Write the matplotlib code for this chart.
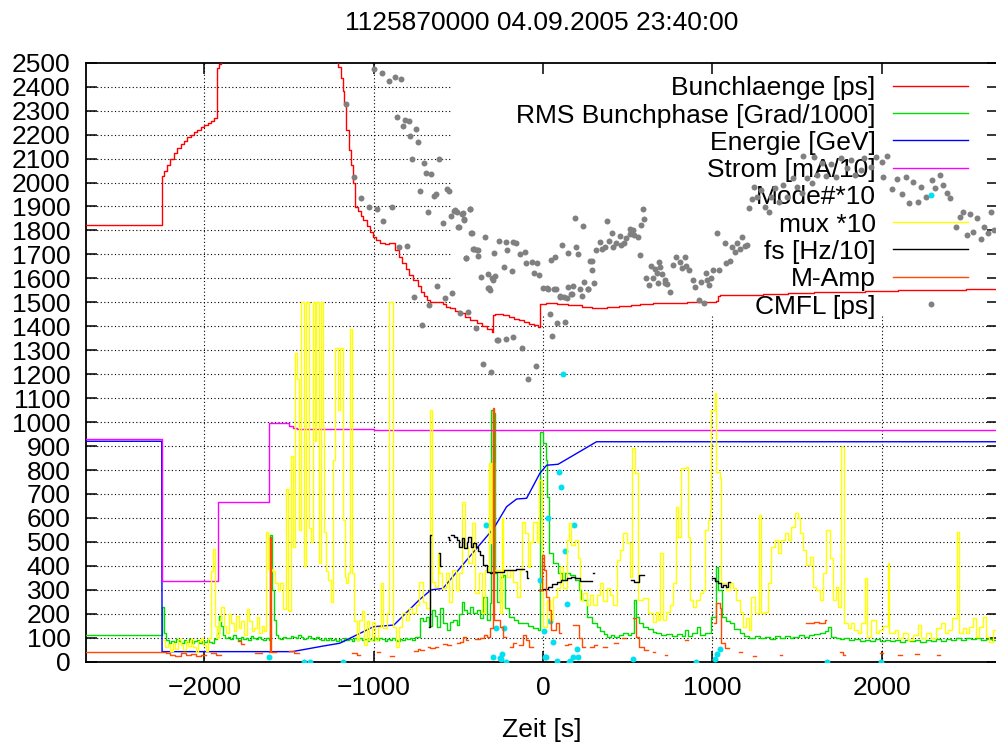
import numpy as np
import matplotlib
matplotlib.use("Agg")
import matplotlib.pyplot as plt

plt.rcParams["font.family"] = ["Liberation Sans", "DejaVu Sans"]

# ---- data: (zeit [s], wert) ----
bunchlaenge = [(-2700, 1822), (-2250, 2027), (-2240, 2050), (-2220, 2075), (-2200, 2100), (-2180, 2125),
               (-2160, 2145), (-2140, 2160), (-2120, 2175), (-2100, 2190), (-2080, 2200), (-2060, 2210),
               (-2040, 2220), (-2020, 2230), (-2000, 2240), (-1980, 2250), (-1960, 2258), (-1940, 2268),
               (-1923, 2479), (-1912, 2494), (-1900, 2600), (-1222, 2600), (-1210, 2480), (-1191, 2435),
               (-1180, 2380), (-1172, 2330), (-1162, 2219), (-1146, 2136), (-1132, 2073), (-1122, 1997),
               (-1107, 1899), (-1090, 1880), (-1075, 1860), (-1063, 1844), (-1040, 1820), (-1020, 1795),
               (-1004, 1774), (-985, 1760), (-964, 1746), (-930, 1744), (-910, 1748), (-895, 1746),
               (-876, 1718), (-850, 1690), (-830, 1665), (-810, 1640), (-790, 1615), (-767, 1593),
               (-740, 1570), (-720, 1545), (-700, 1525), (-685, 1510), (-669, 1502), (-640, 1503),
               (-609, 1502), (-590, 1492), (-570, 1482), (-549, 1475), (-520, 1465), (-490, 1454),
               (-460, 1440), (-430, 1425), (-391, 1412), (-360, 1400), (-330, 1390), (-303, 1377),
               (-297, 1447), (-280, 1452), (-254, 1452), (-234, 1447), (-200, 1440), (-170, 1432),
               (-140, 1425), (-110, 1418), (-80, 1410), (-50, 1404), (-28, 1398), (-18, 1493), (20, 1495),
               (81, 1493), (150, 1488), (230, 1482), (290, 1478), (336, 1475), (380, 1480), (450, 1485),
               (520, 1490), (572, 1493), (650, 1495), (749, 1496), (850, 1500), (950, 1503), (1025, 1505),
               (1032, 1525), (1044, 1530), (1150, 1532), (1300, 1535), (1450, 1538), (1600, 1541),
               (1752, 1544), (1900, 1548), (2100, 1551), (2300, 1553), (2500, 1555), (2685, 1558)]

rms_phase = [(-2700, 113), (-2250, 230), (-2238, 118), (-2225, 92), (-2210, 80), (-2195, 88), (-2180, 82),
             (-2165, 95), (-2150, 85), (-2135, 78), (-2120, 90), (-2105, 84), (-2090, 96), (-2075, 80),
             (-2060, 88), (-2045, 92), (-2030, 78), (-2015, 86), (-2000, 82), (-1985, 90), (-1970, 84),
             (-1955, 78), (-1940, 95), (-1925, 120), (-1915, 190), (-1900, 150), (-1890, 110), (-1875, 98),
             (-1860, 105), (-1845, 95), (-1830, 110), (-1815, 100), (-1800, 92), (-1785, 104), (-1770, 96),
             (-1755, 100), (-1740, 92), (-1725, 106), (-1710, 98), (-1695, 94), (-1680, 102), (-1665, 96),
             (-1650, 90), (-1635, 100), (-1620, 92), (-1612, 530), (-1598, 300), (-1588, 175), (-1578, 110),
             (-1565, 100), (-1550, 96), (-1535, 104), (-1520, 98), (-1505, 100), (-1490, 108), (-1475, 102),
             (-1460, 98), (-1445, 110), (-1430, 104), (-1415, 96), (-1400, 100), (-1385, 106), (-1370, 98),
             (-1355, 94), (-1340, 102), (-1325, 96), (-1310, 90), (-1295, 98), (-1280, 92), (-1265, 100),
             (-1250, 90), (-1235, 96), (-1220, 88), (-1205, 94), (-1190, 86), (-1175, 98), (-1160, 90),
             (-1145, 96), (-1130, 88), (-1115, 100), (-1100, 92), (-1085, 98), (-1070, 90), (-1055, 96),
             (-1040, 88), (-1025, 94), (-1010, 90), (-995, 98), (-980, 92), (-965, 100), (-950, 94),
             (-935, 88), (-920, 96), (-905, 90), (-890, 98), (-875, 92), (-860, 86), (-845, 96), (-830, 92),
             (-815, 100), (-800, 94), (-785, 98), (-770, 90), (-755, 104), (-728, 181), (-710, 170),
             (-690, 185), (-670, 150), (-657, 216), (-640, 190), (-627, 146), (-608, 223), (-590, 160),
             (-568, 132), (-550, 165), (-529, 174), (-509, 153), (-495, 200), (-480, 250), (-465, 215),
             (-450, 202), (-430, 230), (-411, 202), (-390, 215), (-372, 181), (-352, 271), (-332, 174),
             (-313, 244), (-305, 1050), (-297, 400), (-291, 1037), (-283, 369), (-273, 250), (-254, 355),
             (-234, 362), (-224, 223), (-200, 188), (-170, 175), (-145, 160), (-116, 160), (-90, 150),
             (-57, 139), (-28, 132), (-18, 960), (0, 911), (16, 842), (24, 689), (38, 452), (60, 411),
             (90, 369), (112, 341), (130, 369), (160, 362), (190, 341), (215, 300), (228, 258), (258, 188),
             (290, 160), (317, 146), (340, 130), (360, 115), (376, 104), (400, 110), (420, 104), (450, 112),
             (474, 118), (500, 110), (520, 118), (537, 258), (548, 188), (570, 160), (592, 146), (620, 135),
             (650, 125), (671, 118), (700, 110), (730, 115), (760, 106), (790, 115), (820, 108), (838, 132),
             (855, 108), (880, 118), (910, 146), (930, 110), (960, 118), (995, 188), (1020, 394),
             (1035, 299), (1055, 188), (1080, 170), (1103, 160), (1130, 135), (1162, 118), (1190, 108),
             (1220, 100), (1250, 108), (1280, 98), (1310, 104), (1340, 96), (1370, 106), (1400, 100),
             (1430, 108), (1460, 100), (1477, 104), (1510, 110), (1540, 104), (1570, 112), (1600, 115),
             (1634, 118), (1664, 130), (1683, 146), (1703, 104), (1730, 98), (1752, 94), (1780, 98),
             (1810, 90), (1840, 96), (1870, 88), (1900, 92), (1930, 86), (1960, 94), (1990, 88), (2020, 92),
             (2050, 86), (2080, 90), (2110, 84), (2140, 92), (2170, 86), (2200, 90), (2230, 84), (2260, 92),
             (2290, 88), (2320, 94), (2350, 88), (2380, 96), (2410, 90), (2440, 98), (2470, 92), (2500, 100),
             (2530, 94), (2560, 98), (2590, 92), (2620, 96), (2650, 90), (2685, 90)]

energie = [(-2700, 920), (-2251, 920), (-2249, 42), (-1480, 42), (-1300, 65), (-1200, 77), (-1000, 146),
           (-880, 153), (-730, 258), (-660, 300), (-590, 306), (-450, 424), (-290, 557), (-214, 647),
           (-155, 679), (-96, 682), (-18, 786), (22, 820), (90, 824), (317, 918), (2685, 918)]

strom = [(-2700, 928), (-2250, 338), (-1916, 665), (-1615, 997), (-1540, 995), (-1500, 985), (-1475, 975),
         (-1450, 970), (-1000, 968), (2685, 967)]

mode = [(-1615, 21), (-1410, 0), (-1375, 0), (-1180, 0), (-333, 571), (-293, 21), (-277, 139), (-254, 14),
        (-250, 10), (-244, 31), (-230, 140), (-218, 0), (-19, 341), (6, 130), (12, 21), (18, 21), (28, 601),
        (41, 171), (61, 81), (81, 3), (96, 790), (108, 730), (120, 1201), (133, 462), (141, 241), (156, 0),
        (159, 3), (175, 21), (185, 571), (199, 52), (208, 21), (535, 11), (907, 0), (1017, 13), (1031, 32),
        (1044, 52), (1680, 0), (1996, 0)]

mux = [(-2245, 90), (-2230, 60), (-2215, 75), (-2200, 45), (-2185, 80), (-2170, 55), (-2155, 95), (-2140, 70),
       (-2125, 50), (-2110, 85), (-2095, 65), (-2080, 95), (-2065, 60), (-2050, 40), (-2035, 85), (-2020, 100),
       (-2005, 70), (-1990, 45), (-1975, 100), (-1960, 380), (-1948, 470), (-1935, 150), (-1925, 100),
       (-1915, 170), (-1900, 230), (-1885, 150), (-1870, 120), (-1855, 200), (-1840, 160), (-1825, 130),
       (-1810, 190), (-1795, 140), (-1780, 170), (-1765, 110), (-1750, 220), (-1735, 170), (-1720, 130),
       (-1705, 140), (-1690, 185), (-1675, 120), (-1660, 150), (-1645, 130), (-1636, 540), (-1622, 385),
       (-1600, 380), (-1580, 330), (-1565, 300), (-1550, 330), (-1535, 220), (-1520, 720), (-1505, 210),
       (-1490, 860), (-1475, 480), (-1462, 1290), (-1450, 1180), (-1440, 550), (-1428, 1500), (-1408, 400),
       (-1398, 1500), (-1383, 560), (-1372, 500), (-1360, 1500), (-1347, 920), (-1337, 1500), (-1322, 410),
       (-1312, 1500), (-1300, 980), (-1290, 540), (-1280, 380), (-1267, 340), (-1250, 250), (-1240, 840),
       (-1226, 1310), (-1212, 1050), (-1196, 1310), (-1180, 590), (-1170, 355), (-1160, 330), (-1150, 370),
       (-1140, 1390), (-1126, 370), (-1115, 170), (-1100, 90), (-1085, 175), (-1070, 210), (-1055, 70),
       (-1040, 170), (-1025, 90), (-1010, 167), (-991, 90), (-971, 146), (-958, 327), (-942, 139),
       (-922, 202), (-907, 1500), (-883, 146), (-868, 63), (-850, 146), (-830, 202), (-810, 174),
       (-790, 223), (-770, 202), (-750, 237), (-730, 334), (-710, 250), (-690, 223), (-665, 1050),
       (-652, 334), (-636, 313), (-622, 452), (-612, 369), (-595, 306), (-575, 369), (-555, 250),
       (-535, 383), (-515, 299), (-495, 369), (-475, 668), (-458, 480), (-440, 411), (-420, 578),
       (-400, 285), (-380, 369), (-360, 202), (-340, 383), (-320, 828), (-308, 494), (-301, 828),
       (-288, 383), (-254, 202), (-244, 599), (-234, 383), (-214, 355), (-195, 383), (-175, 334),
       (-155, 271), (-136, 383), (-122, 585), (-106, 536), (-87, 397), (-77, 501), (-57, 585), (-37, 501),
       (-22, 758), (-8, 341), (2, 146), (22, 257), (41, 174), (61, 271), (81, 306), (100, 397), (120, 306),
       (140, 508), (155, 578), (169, 487), (188, 508), (208, 432), (218, 257), (238, 285), (258, 237),
       (277, 278), (297, 237), (317, 278), (336, 327), (356, 253), (376, 306), (395, 278), (415, 237),
       (435, 425), (454, 466), (474, 536), (494, 494), (513, 355), (529, 891), (543, 786), (563, 257),
       (592, 264), (621, 202), (651, 167), (671, 209), (680, 174), (694, 452), (710, 174), (730, 209),
       (749, 237), (769, 327), (785, 647), (799, 522), (818, 807), (843, 814), (857, 522), (867, 257),
       (887, 229), (907, 257), (926, 285), (946, 299), (956, 550), (975, 591), (985, 633), (995, 1050),
       (1015, 1120), (1025, 793), (1044, 765), (1054, 327), (1084, 299), (1103, 327), (1123, 306),
       (1143, 257), (1162, 209), (1182, 146), (1201, 181), (1217, 132), (1231, 271), (1251, 202),
       (1276, 612), (1290, 202), (1310, 209), (1330, 327), (1349, 480), (1369, 508), (1389, 452),
       (1408, 508), (1428, 536), (1448, 508), (1467, 564), (1487, 619), (1507, 599), (1516, 536),
       (1536, 466), (1556, 404), (1575, 438), (1595, 313), (1615, 299), (1634, 257), (1654, 369),
       (1674, 550), (1693, 432), (1713, 257), (1733, 313), (1743, 229), (1762, 897), (1776, 160),
       (1801, 139), (1821, 160), (1840, 132), (1860, 118), (1880, 160), (1900, 348), (1913, 104),
       (1939, 174), (1969, 118), (1988, 132), (2008, 150), (2038, 411), (2047, 118), (2077, 132),
       (2096, 98), (2126, 118), (2156, 90), (2185, 111), (2214, 153), (2234, 98), (2264, 118), (2293, 98),
       (2323, 139), (2352, 160), (2372, 118), (2391, 132), (2417, 181), (2446, 543), (2460, 118),
       (2480, 139), (2500, 118), (2519, 146), (2539, 181), (2559, 104), (2578, 146), (2598, 188),
       (2618, 104), (2637, 84), (2657, 132), (2685, 132)]

nan = float("nan")
fs = [(-672, 146), (-667, 529), (-662, nan), (-613, 452), (-605, 400), (-600, nan), (-562, 520), (-555, 510),
      (-550, nan), (-545, 529), (-525, 520), (-509, 508), (-495, 480), (-480, 515), (-465, 473), (-450, 500),
      (-440, 522), (-425, 480), (-411, 494), (-395, 480), (-385, 463), (-372, 445), (-352, 404), (-332, 376),
      (-313, 369), (-300, 376), (-283, 376), (-254, 376), (-230, 383), (-195, 383), (-160, 386), (-126, 386),
      (-110, nan), (-100, 380), (-92, 350), (-85, nan), (-20, 299), (0, 305), (31, 313), (55, 325), (81, 334),
      (110, 340), (140, 348), (165, 355), (190, 350), (218, 337), (245, 338), (267, 338), (290, nan),
      (297, 369), (303, nan), (523, 341), (540, 334), (553, 334), (565, 362), (592, 362), (598, nan),
      (1001, 348), (1018, 335), (1034, 327), (1050, 313), (1064, 320), (1080, 313), (1095, 334), (1103, nan)]

m_amp = [(-2700, 42), (-2240, 42), (-2225, 38), (-2200, 30), (-2170, 25), (-2140, 35), (-2110, 28), (-2080, 33),
         (-2050, 25), (-2020, 30), (-1990, nan), (-1960, 38), (-1930, 30), (-1900, nan), (-1800, 85),
         (-1780, 75), (-1765, nan), (-1700, 35), (-1660, nan), (-1620, 40), (-1613, 520), (-1606, 40),
         (-1590, 40), (-1575, nan), (-1500, 45), (-1470, 38), (-1440, nan), (-1130, 35), (-1100, 28),
         (-1080, nan), (-980, 40), (-960, nan), (-900, 25), (-880, nan), (-760, 45), (-740, 55), (-726, 49),
         (-700, nan), (-680, 60), (-667, 56), (-640, 63), (-620, nan), (-590, 75), (-568, 70), (-540, nan),
         (-510, 80), (-490, 83), (-470, 104), (-455, 90), (-440, nan), (-400, 95), (-372, 98), (-350, 110),
         (-332, 104), (-310, 140), (-297, 1058), (-289, 174), (-273, 174), (-254, 146), (-234, 104),
         (-215, nan), (-195, 63), (-175, 80), (-160, nan), (-140, 70), (-120, 110), (-100, 90), (-80, 60),
         (-60, nan), (-20, 300), (-4, 445), (6, 383), (20, 271), (35, 216), (50, 132), (75, 160), (95, 118),
         (110, nan), (130, 70), (150, 75), (165, nan), (178, 153), (200, 153), (215, 98), (230, 63),
         (250, nan), (277, 63), (300, 70), (320, nan), (356, 63), (380, nan), (420, 80), (445, nan),
         (470, 100), (490, nan), (533, 181), (548, 104), (565, 63), (600, 49), (620, nan), (650, 40),
         (665, nan), (720, 30), (735, nan), (840, 90), (855, nan), (1010, 160), (1025, 244), (1044, 223),
         (1054, 77), (1075, 56), (1100, nan), (1160, 40), (1175, nan), (1240, 25), (1260, nan), (1400, 30),
         (1415, nan), (1556, 160), (1600, 165), (1630, 160), (1664, 175), (1672, nan), (1752, 42),
         (1770, 30), (1785, nan), (1990, 35), (2010, nan), (2100, 30), (2120, nan), (2200, 32), (2220, nan),
         (2330, 30), (2345, nan)]

cmfl = [(-997, 2472), (-950, 2459), (-907, 2424), (-871, 2442), (-838, 2433), (-1164, 2328), (-860, 2272),
        (-812, 2261), (-793, 2258), (-829, 2237), (-750, 2222), (-782, 2194), (-737, 2168), (-770, 2098),
        (-614, 2099), (-702, 2080), (-692, 2038), (-659, 2034), (-1118, 2022), (-726, 1964), (-643, 1945),
        (-633, 1952), (-568, 1972), (-556, 1966), (-1074, 1937), (-1028, 1898), (-981, 1891), (-893, 1897),
        (-679, 1878), (-543, 1860), (-525, 1881), (-509, 1877), (-478, 1867), (-431, 1891), (-942, 1841),
        (-592, 1832), (-466, 1846), (-502, 1814), (-425, 1788), (-454, 1684), (-411, 1722), (-391, 1718),
        (-381, 1693), (-848, 1729), (-802, 1735), (-624, 1568), (-762, 1523), (-580, 1517), (-535, 1538),
        (-671, 1487), (-490, 1454), (-444, 1461), (-714, 1405), (-397, 1391), (-352, 1242), (-309, 1210),
        (-263, 1343), (-324, 1558), (-297, 1593), (-313, 1551), (-273, 1343), (-218, 1346), (-175, 1354),
        (-126, 1308), (-41, 1234), (-85, 1178), (2, 1558), (31, 1554), (75, 1554), (41, 1450), (86, 1412),
        (131, 1419), (51, 1359), (100, 1521), (143, 1519), (169, 1535), (178, 1568), (234, 1526),
        (222, 1554), (267, 1554), (301, 1582), (624, 1572), (680, 1579), (720, 1582), (749, 1544),
        (-518, 1885), (-471, 1871), (-467, 1844), (-432, 1888), (-497, 1815), (-421, 1788), (-409, 1722),
        (-384, 1718), (-456, 1684), (-343, 1774), (-364, 1607), (-327, 1618), (-302, 1600), (-281, 1610),
        (-319, 1558), (-286, 1707), (-257, 1756), (-230, 1646), (-220, 1753), (-210, 1718), (-179, 1753),
        (-183, 1632), (-158, 1749), (-138, 1702), (-107, 1711), (-97, 1663), (-66, 1667), (-55, 1624),
        (-21, 1614), (-35, 1663), (22, 1558), (68, 1554), (47, 1676), (104, 1526), (125, 1521), (150, 1563),
        (171, 1535), (72, 1690), (113, 1739), (150, 1704), (187, 1851), (195, 1732), (207, 1702),
        (236, 1818), (242, 1586), (269, 1554), (277, 1674), (289, 1674), (289, 1635), (314, 1718),
        (335, 1753), (351, 1721), (366, 1732), (376, 1841), (393, 1757), (407, 1788), (417, 1732),
        (433, 1746), (458, 1777), (462, 1739), (479, 1746), (489, 1767), (516, 1805), (516, 1785),
        (530, 1802), (540, 1781), (561, 1774), (577, 1823), (592, 1888), (598, 1846), (571, 1697),
        (612, 1600), (639, 1652), (649, 1600), (663, 1638), (673, 1624), (684, 1669), (694, 1649),
        (704, 1618), (721, 1593), (735, 1576), (766, 1656), (787, 1688), (811, 1669), (824, 1642),
        (838, 1690), (848, 1652), (865, 1635), (885, 1593), (900, 1565), (920, 1510), (931, 1586),
        (961, 1621), (972, 1593), (992, 1600), (1002, 1635), (951, 1496), (982, 1572), (1029, 1791),
        (1043, 1635), (1074, 1746), (1084, 1663), (1105, 1674), (1119, 1732), (1136, 1711), (1146, 1746),
        (1166, 1721), (1176, 1774), (1194, 1735), (1208, 1739), (1218, 1892), (1234, 1930), (1249, 1980),
        (1263, 1941), (1290, 1969), (1310, 1899), (1337, 1878), (1345, 1941), (1372, 1976), (1392, 1920),
        (1419, 1990), (1444, 1941), (1475, 2017), (1502, 1980), (1531, 1955), (1537, 2111), (1557, 2017),
        (1588, 1997), (1604, 2108), (1619, 2031), (1650, 2080), (1670, 2027), (1701, 2077), (1732, 2024),
        (1763, 2101), (1794, 2059), (1818, 2094), (1845, 2031), (1876, 2052), (1896, 2101), (1937, 2066),
        (1968, 2108), (2003, 2087), (2030, 2111), (2009, 2024), (2060, 1972), (2091, 2013), (2122, 1952),
        (2142, 2024), (2163, 1916), (2184, 2003), (2214, 1920), (2235, 1982), (2261, 1941), (2296, 2010),
        (2317, 1976), (2348, 2031), (2365, 1990), (2385, 1958), (2406, 1934), (2441, 1813), (2461, 1857),
        (2482, 1878), (2503, 1781), (2523, 1868), (2543, 1795), (2564, 1851), (2585, 1763), (2605, 1815),
        (2626, 1788), (2646, 1878), (2666, 1802)]

legend_labels = ["Bunchlaenge [ps]", "RMS Bunchphase [Grad/1000]", "Energie [GeV]", "Strom [mA/10]",
                 "Mode#*10", "mux *10", "fs [Hz/10]", "M-Amp", "CMFL [ps]"]
x_ticks = [-2000, -1000, 0, 1000, 2000]
y_ticks = list(range(0, 2501, 100))
title = "1125870000 04.09.2005 23:40:00"

# ---- figure, pixel layout like the gnuplot png ----
W, H = 996, 747
fig = plt.figure(figsize=(W / 100, H / 100), dpi=100)
ax = fig.add_axes([85.7 / W, 1 - 661.7 / H, (997.5 - 85.7) / W, (661.7 - 62.7) / H])
ax.set_xlim(-2700, 2685)
ax.set_ylim(0, 2500)

colors = {"red": "#ff0000", "green": "#00dd00", "blue": "#0000ff", "magenta": "#ff00ff",
          "cyan": "#00e0f0", "yellow": "#ffff00", "black": "#000000", "orange": "#ff4a00",
          "gray": "#808080"}


def xy(pairs):
    a = np.array(pairs, dtype=float)
    return a[:, 0], a[:, 1]


lw = 1.0
ms = 4.3
ax.plot(*xy(bunchlaenge), drawstyle="steps-post", color=colors["red"], lw=lw, zorder=3)
ax.plot(*xy(rms_phase), drawstyle="steps-post", color=colors["green"], lw=lw, zorder=3.1)
ax.plot(*xy(energie), color=colors["blue"], lw=lw, zorder=3.2)
ax.plot(*xy(strom), drawstyle="steps-post", color=colors["magenta"], lw=lw, zorder=3.3)
ax.plot(*xy(mode), ls="none", marker="o", ms=ms, mew=0, color=colors["cyan"], zorder=3.4)
ax.plot(*xy(mux), drawstyle="steps-post", color=colors["yellow"], lw=lw, zorder=3.5)
ax.plot(*xy(fs), drawstyle="steps-post", color=colors["black"], lw=lw, zorder=3.6)
ax.plot(*xy(m_amp), drawstyle="steps-post", color=colors["orange"], lw=lw, zorder=3.7)
ax.plot(*xy(cmfl), ls="none", marker="o", ms=ms, mew=0, color=colors["gray"], zorder=3.9)

# grid: gnuplot leaves the key area blank
key_left, key_bottom = -549, 1443
dots = (0, (1, 2.2))
for y in y_ticks[1:-1]:
    x1 = key_left if y > key_bottom else 2685
    ax.hlines(y, -2700, x1, colors="black", linestyles=dots, lw=0.8, zorder=1)
for x in x_ticks:
    y1 = 2500 if x < key_left else key_bottom
    ax.vlines(x, 0, y1, colors="black", linestyles=dots, lw=0.8, zorder=1)

ax.set_xticks(x_ticks)
ax.set_yticks(y_ticks)
ax.tick_params(axis="both", direction="in", length=8, width=1.1, top=True, right=True,
               labelsize=19, colors="black")
ax.tick_params(axis="y", pad=11)
ax.tick_params(axis="x", pad=10)
for s in ax.spines.values():
    s.set_linewidth(1.3)
ax.set_xlabel("Zeit [s]", fontsize=19, labelpad=13)

fig.text(541.6 / W, 1 - 23 / H, title, ha="center", va="center", fontsize=19)

# key, drawn by hand: right aligned text, sample to the right
styles = [("line", colors["red"]), ("line", colors["green"]), ("line", colors["blue"]),
          ("line", colors["magenta"]), ("point", colors["cyan"]), ("line", colors["yellow"]),
          ("line", colors["black"]), ("line", colors["orange"]), ("point", colors["gray"])]
row0, row_step = 85.7, 27.3
for i, (label, (kind, c)) in enumerate(zip(legend_labels, styles)):
    yp = row0 + i * row_step
    yf = 1 - yp / H
    ax.text(875.5 / W, 1 - (yp + 9.5) / H, label, ha="right", va="baseline", fontsize=19,
            transform=fig.transFigure, zorder=3.8)
    if kind == "line":
        ax.plot([893 / W, 968 / W], [yf, yf], color=c, lw=lw, transform=fig.transFigure,
                clip_on=False, zorder=3.8)
    else:
        ax.plot([930.5 / W], [yf], ls="none", marker="o", ms=ms, mew=0, color=c,
                transform=fig.transFigure, clip_on=False, zorder=3.95)

fig.savefig("out.png", dpi=100)
